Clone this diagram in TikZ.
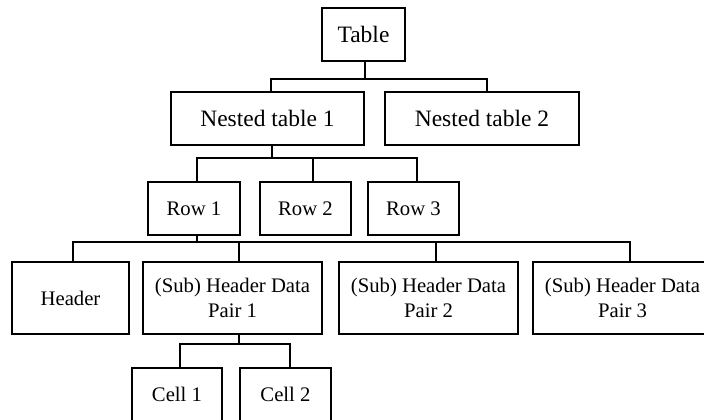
\documentclass[tikz,border=0pt]{standalone}
\usepackage{fontspec}
\setmainfont{Liberation Serif}
\begin{document}
\begin{tikzpicture}[x=1pt,y=1pt,
  box/.style={draw=black,line width=1.2pt,rectangle,inner sep=0pt,align=center,minimum height=53pt},
  big/.style={font=\fontsize{23.5}{28}\selectfont},
  small/.style={font=\fontsize{20.7}{24.5}\selectfont},
  conn/.style={draw=black,line width=2pt,line cap=rect}]
\clip (0,0) rectangle (704,-420);
\fill[white] (0,0) rectangle (704,-420);
% nodes
\node[box,big,minimum width=83pt] (tab) at (363.5,-34.5) {Table};
\node[box,big,minimum width=193pt] (nt1) at (267.5,-118.5) {Nested table 1};
\node[box,big,minimum width=194pt] (nt2) at (482,-118.5) {Nested table 2};
\node[box,small,minimum width=92pt] (r1) at (194,-208.5) {Row 1};
\node[box,small,minimum width=91pt] (r2) at (305.5,-208.5) {Row 2};
\node[box,small,minimum width=91pt] (r3) at (413.5,-208.5) {Row 3};
\node[box,small,minimum width=117pt,minimum height=72pt] (hd) at (70.5,-298) {Header};
\node[box,small,minimum width=179pt,minimum height=72pt] (p1) at (232.5,-298) {(Sub) Header Data\\Pair 1};
\node[box,small,minimum width=179pt,minimum height=72pt] (p2) at (428.5,-298) {(Sub) Header Data\\Pair 2};
\node[box,small,minimum width=179pt,minimum height=72pt] (p3) at (622.5,-298) {(Sub) Header Data\\Pair 3};
\node[box,small,minimum width=90pt] (c1) at (177,-394.5) {Cell 1};
\node[box,small,minimum width=91pt] (c2) at (285.5,-394.5) {Cell 2};
% bus coordinates
\coordinate (a0) at (365,-79);
\coordinate (a1) at (271,-79);
\coordinate (a2) at (487,-79);
\coordinate (b0) at (272,-158);
\coordinate (b1) at (197,-158);
\coordinate (b2) at (313,-158);
\coordinate (b3) at (417,-158);
\coordinate (d0) at (197,-242);
\coordinate (d1) at (73,-242);
\coordinate (d2) at (239,-242);
\coordinate (d3) at (436,-242);
\coordinate (d4) at (630,-242);
\coordinate (e0) at (239,-344);
\coordinate (e1) at (180,-344);
\coordinate (e2) at (290,-344);
% connectors
\draw[conn] (tab.south -| a0) -- (a0);
\draw[conn] (nt1.north -| a1) -- (a1) -- (a2) -- (nt2.north -| a2);
\draw[conn] (nt1.south -| b0) -- (b0);
\draw[conn] (r1.north -| b1) -- (b1) -- (b3) -- (r3.north -| b3);
\draw[conn] (b2) -- (r2.north -| b2);
\draw[conn] (r1.south -| d0) -- (d0);
\draw[conn] (hd.north -| d1) -- (d1) -- (d4) -- (p3.north -| d4);
\draw[conn] (d2) -- (p1.north -| d2);
\draw[conn] (d3) -- (p2.north -| d3);
\draw[conn] (p1.south -| e0) -- (e0);
\draw[conn] (c1.north -| e1) -- (e1) -- (e2) -- (c2.north -| e2);
\end{tikzpicture}
\end{document}
